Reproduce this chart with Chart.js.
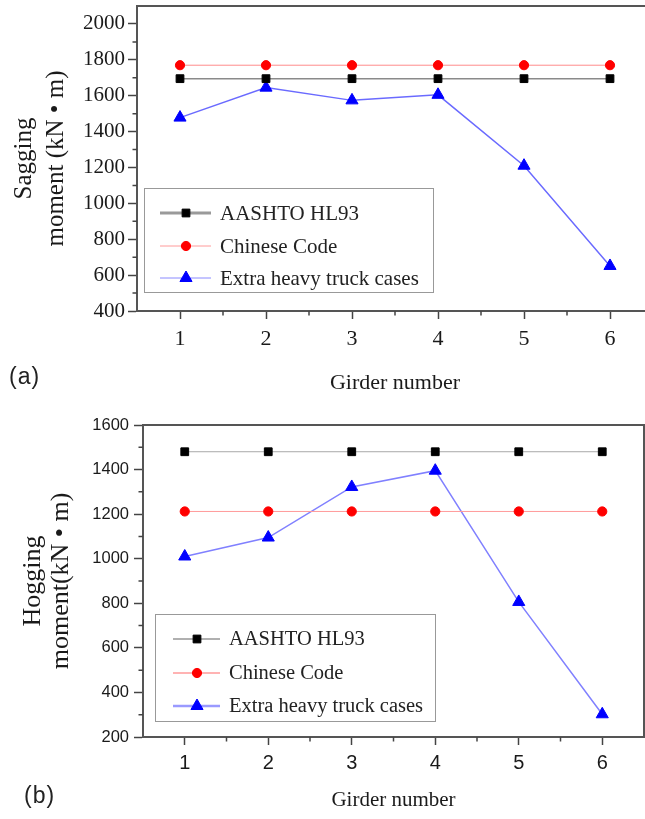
<!DOCTYPE html>
<html><head><meta charset="utf-8">
<script src="https://cdn.jsdelivr.net/npm/chart.js@4.4.0/dist/chart.umd.min.js"></script>
<style>
html,body{margin:0;padding:0;background:#fff;overflow:hidden;width:645px;height:819px;position:relative;}
#wrapA{position:absolute;left:0;top:0;width:660px;height:400px;}
#wrapB{position:absolute;left:0;top:400px;width:645px;height:419px;}
.tag{position:absolute;font-family:"Liberation Sans",Arial,sans-serif;font-size:23px;line-height:23px;letter-spacing:1px;color:#222;}
</style></head><body>
<div id="wrapA"><canvas id="cA" width="660" height="400"></canvas></div>
<div id="wrapB"><canvas id="cB" width="645" height="419"></canvas></div>
<div class="tag" style="left:9px;top:365px">(a)</div>
<div class="tag" style="left:24px;top:784px">(b)</div>
<script>
// ---- data ----
const girders = [1, 2, 3, 4, 5, 6];
const seriesNames = ['AASHTO HL93', 'Chinese Code', 'Extra heavy truck cases'];
// (a) sagging moment
const aashtoA = [1695, 1695, 1695, 1695, 1695, 1695];
const chineseA = [1770, 1770, 1770, 1770, 1770, 1770];
const extraA = [1478, 1645, 1574, 1605, 1210, 651];
const yTicksA = [400, 600, 800, 1000, 1200, 1400, 1600, 1800, 2000];
// (b) hogging moment
const aashtoB = [1480, 1480, 1480, 1480, 1480, 1480];
const chineseB = [1212, 1212, 1212, 1212, 1212, 1212];
const extraB = [1010, 1095, 1322, 1395, 806, 302];
const yTicksB = [200, 400, 600, 800, 1000, 1200, 1400, 1600];
const xTicks = [1, 2, 3, 4, 5, 6];

const mids = arr => arr.slice(1).map((v, i) => (v + arr[i]) / 2);

const frameAndMinor = {
  id: 'frameAndMinor',
  afterDraw(chart, args, o) {
    const ctx = chart.ctx, a = chart.chartArea, xs = chart.scales.x, ys = chart.scales.y;
    ctx.save();
    ctx.strokeStyle = '#444';
    ctx.lineWidth = 1.5;
    ctx.beginPath();
    o.xMinor.forEach(v => { const p = xs.getPixelForValue(v); ctx.moveTo(p, a.bottom); ctx.lineTo(p, a.bottom + o.len); });
    o.yMinor.forEach(v => { const p = ys.getPixelForValue(v); ctx.moveTo(a.left, p); ctx.lineTo(a.left - o.len, p); });
    ctx.stroke();
    ctx.strokeStyle = '#555';
    ctx.lineWidth = 2;
    ctx.beginPath();
    ctx.moveTo(a.left, a.top); ctx.lineTo(a.right, a.top); ctx.lineTo(a.right, a.bottom);
    ctx.stroke();
    ctx.restore();
  }
};

const boxLegend = {
  id: 'boxLegend',
  afterDraw(chart, args, o) {
    const ctx = chart.ctx;
    ctx.save();
    ctx.fillStyle = '#fff';
    ctx.fillRect(o.x, o.y, o.w, o.h);
    ctx.strokeStyle = '#999';
    ctx.lineWidth = 1;
    ctx.strokeRect(o.x + 0.5, o.y + 0.5, o.w, o.h);
    chart.data.datasets.forEach((ds, i) => {
      const cy = o.rows[i];
      ctx.strokeStyle = o.lineColors[i];
      ctx.lineWidth = o.lineWidths[i];
      ctx.beginPath(); ctx.moveTo(o.lx0, cy); ctx.lineTo(o.lx1, cy); ctx.stroke();
      ctx.fillStyle = ds.pointBackgroundColor;
      ctx.strokeStyle = ds.pointBorderColor;
      ctx.lineWidth = 1;
      Chart.helpers.drawPoint(ctx, {pointStyle: ds.pointStyle, radius: ds.pointRadius, borderWidth: 1, rotation: 0}, o.mx, cy);
      ctx.fillStyle = '#222';
      ctx.font = o.font;
      ctx.textBaseline = 'middle';
      ctx.textAlign = 'left';
      ctx.fillText(ds.label, o.tx, cy + 1);
    });
    ctx.restore();
  }
};

function makeDatasets(vals, lineColors, lineWidths) {
  const styles = [
    {pointStyle: 'rect', pointRadius: 5.5, color: '#000'},
    {pointStyle: 'circle', pointRadius: 4.6, color: '#ff0000'},
    {pointStyle: 'triangle', pointRadius: 7, color: '#0000ff'}
  ];
  return vals.map((arr, i) => ({
    label: seriesNames[i],
    data: girders.map((g, k) => ({x: g, y: arr[k]})),
    borderColor: lineColors[i],
    borderWidth: lineWidths[i],
    pointStyle: styles[i].pointStyle,
    pointRadius: styles[i].pointRadius,
    pointHoverRadius: styles[i].pointRadius,
    pointBackgroundColor: styles[i].color,
    pointBorderColor: styles[i].color,
    pointBorderWidth: 1,
    tension: 0
  }));
}

function makeChart(id, cfg) {
  return new Chart(document.getElementById(id), {
    type: 'line',
    data: {datasets: makeDatasets(cfg.vals, cfg.lineColors, cfg.lineWidths)},
    options: {
      responsive: false,
      animation: false,
      devicePixelRatio: 1,
      layout: {padding: cfg.padding, autoPadding: false},
      plugins: {
        legend: {display: false},
        tooltip: {enabled: false},
        frameAndMinor: {xMinor: mids(xTicks), yMinor: cfg.yMinor, len: 4.5},
        boxLegend: cfg.legend
      },
      scales: {
        x: {
          type: 'linear', min: 0.5, max: 6.5,
          afterBuildTicks: s => { s.ticks = xTicks.map(v => ({value: v})); },
          afterFit: s => { s.height = cfg.xHeight; s.paddingLeft = 0; s.paddingRight = 0; },
          grid: {display: true, drawOnChartArea: false, drawTicks: true, tickLength: 8, tickColor: '#444', tickWidth: 1.5},
          border: {display: true, color: '#555', width: 2},
          ticks: {callback: v => String(v), font: cfg.xTickFont, color: '#1a1a1a', padding: cfg.xTickPad, maxRotation: 0, autoSkip: false},
          title: {display: true, text: 'Girder number', font: cfg.xTitleFont, color: '#1a1a1a', padding: {top: 0, bottom: cfg.xTitlePad}}
        },
        y: {
          type: 'linear', min: cfg.yMin, max: cfg.yMax,
          afterBuildTicks: s => { s.ticks = cfg.yTicks.map(v => ({value: v})); },
          afterFit: s => { s.width = cfg.yWidth; s.paddingTop = 0; s.paddingBottom = 0; },
          grid: {display: true, drawOnChartArea: false, drawTicks: true, tickLength: 9, tickColor: '#444', tickWidth: 1.5},
          border: {display: true, color: '#555', width: 2},
          ticks: {callback: v => String(v), font: cfg.yTickFont, color: '#1a1a1a', padding: cfg.yTickPad, autoSkip: false},
          title: {display: true, text: cfg.yTitle, font: cfg.yTitleFont, color: '#1a1a1a', padding: {top: cfg.yTitlePad, bottom: 0}}
        }
      }
    },
    plugins: [frameAndMinor, boxLegend]
  });
}

makeChart('cA', {
  vals: [aashtoA, chineseA, extraA],
  lineColors: ['#8a8a8a', '#ff8c8c', '#6a6aff'],
  lineWidths: [1.5, 1, 1.5],
  padding: {left: 0, top: 6, right: 7, bottom: 0},
  xHeight: 89, yWidth: 137,
  yMin: 400, yMax: 2100, yTicks: yTicksA,
  yMinor: [500, 700, 900, 1100, 1300, 1500, 1700, 1900],
  xTickFont: {family: '"Liberation Serif", serif', size: 22},
  xTickPad: 7,
  xTitleFont: {family: '"Liberation Serif", serif', size: 22},
  xTitlePad: 4,
  yTickFont: {family: '"Liberation Serif", serif', size: 21},
  yTickPad: 3,
  yTitle: ['Sagging', 'moment (kN \u2022 m)'],
  yTitleFont: {family: '"Liberation Serif", serif', size: 25, lineHeight: '32px'},
  yTitlePad: 8,
  legend: {x: 144, y: 188, w: 289, h: 104, rows: [213, 246, 278], lx0: 160, lx1: 211, mx: 186, tx: 220,
    lineColors: ['#9a9a9a', '#ff9a9a', '#8a8aff'], lineWidths: [3, 1, 1],
    font: '21px "Liberation Serif", serif'}
});

makeChart('cB', {
  vals: [aashtoB, chineseB, extraB],
  lineColors: ['#a8a8a8', '#ff9a9a', '#8080ff'],
  lineWidths: [1, 1, 1.5],
  padding: {left: 0, top: 25, right: 1, bottom: 0},
  xHeight: 82, yWidth: 143,
  yMin: 200, yMax: 1600, yTicks: yTicksB,
  yMinor: [300, 500, 700, 900, 1100, 1300, 1500],
  xTickFont: {family: '"Liberation Sans", Arial, sans-serif', size: 20},
  xTickPad: 6,
  xTitleFont: {family: '"Liberation Serif", serif', size: 21},
  xTitlePad: 6,
  yTickFont: {family: '"Liberation Sans", Arial, sans-serif', size: 16.5},
  yTickPad: 5,
  yTitle: ['Hogging', 'moment(kN \u2022 m)'],
  yTitleFont: {family: '"Liberation Serif", serif', size: 26, lineHeight: '28px'},
  yTitlePad: 19,
  legend: {x: 155, y: 214, w: 280, h: 107, rows: [239, 273, 306], lx0: 173, lx1: 220, mx: 197, tx: 229,
    lineColors: ['#b0b0b0', '#ff9a9a', '#9a9aff'], lineWidths: [2, 1.5, 2.5],
    font: '20.5px "Liberation Serif", serif'}
});
</script>
</body></html>
